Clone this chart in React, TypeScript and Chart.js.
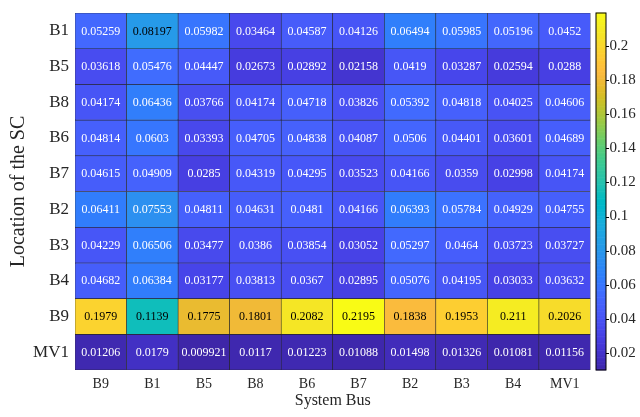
import React, { useEffect, useRef } from "react";
import { Chart, registerables } from "chart.js";

Chart.register(...registerables);

const systemBuses = ["B9", "B1", "B5", "B8", "B6", "B7", "B2", "B3", "B4", "MV1"];
const scLocations = ["B1", "B5", "B8", "B6", "B7", "B2", "B3", "B4", "B9", "MV1"];

const rowB1 = [0.05259, 0.08197, 0.05982, 0.03464, 0.04587, 0.04126, 0.06494, 0.05985, 0.05196, 0.0452];
const rowB5 = [0.03618, 0.05476, 0.04447, 0.02673, 0.02892, 0.02158, 0.0419, 0.03287, 0.02594, 0.0288];
const rowB8 = [0.04174, 0.06436, 0.03766, 0.04174, 0.04718, 0.03826, 0.05392, 0.04818, 0.04025, 0.04606];
const rowB6 = [0.04814, 0.0603, 0.03393, 0.04705, 0.04838, 0.04087, 0.0506, 0.04401, 0.03601, 0.04689];
const rowB7 = [0.04615, 0.04909, 0.0285, 0.04319, 0.04295, 0.03523, 0.04166, 0.0359, 0.02998, 0.04174];
const rowB2 = [0.06411, 0.07553, 0.04811, 0.04631, 0.0481, 0.04166, 0.06393, 0.05784, 0.04929, 0.04755];
const rowB3 = [0.04229, 0.06506, 0.03477, 0.0386, 0.03854, 0.03052, 0.05297, 0.0464, 0.03723, 0.03727];
const rowB4 = [0.04682, 0.06384, 0.03177, 0.03813, 0.0367, 0.02895, 0.05076, 0.04195, 0.03033, 0.03632];
const rowB9 = [0.1979, 0.1139, 0.1775, 0.1801, 0.2082, 0.2195, 0.1838, 0.1953, 0.211, 0.2026];
const rowMV1 = [0.01206, 0.0179, 0.009921, 0.0117, 0.01223, 0.01088, 0.01498, 0.01326, 0.01081, 0.01156];

const matrix = [rowB1, rowB5, rowB8, rowB6, rowB7, rowB2, rowB3, rowB4, rowB9, rowMV1];
const labelStrings = [
  ["0.05259", "0.08197", "0.05982", "0.03464", "0.04587", "0.04126", "0.06494", "0.05985", "0.05196", "0.0452"],
  ["0.03618", "0.05476", "0.04447", "0.02673", "0.02892", "0.02158", "0.0419", "0.03287", "0.02594", "0.0288"],
  ["0.04174", "0.06436", "0.03766", "0.04174", "0.04718", "0.03826", "0.05392", "0.04818", "0.04025", "0.04606"],
  ["0.04814", "0.0603", "0.03393", "0.04705", "0.04838", "0.04087", "0.0506", "0.04401", "0.03601", "0.04689"],
  ["0.04615", "0.04909", "0.0285", "0.04319", "0.04295", "0.03523", "0.04166", "0.0359", "0.02998", "0.04174"],
  ["0.06411", "0.07553", "0.04811", "0.04631", "0.0481", "0.04166", "0.06393", "0.05784", "0.04929", "0.04755"],
  ["0.04229", "0.06506", "0.03477", "0.0386", "0.03854", "0.03052", "0.05297", "0.0464", "0.03723", "0.03727"],
  ["0.04682", "0.06384", "0.03177", "0.03813", "0.0367", "0.02895", "0.05076", "0.04195", "0.03033", "0.03632"],
  ["0.1979", "0.1139", "0.1775", "0.1801", "0.2082", "0.2195", "0.1838", "0.1953", "0.211", "0.2026"],
  ["0.01206", "0.0179", "0.009921", "0.0117", "0.01223", "0.01088", "0.01498", "0.01326", "0.01081", "0.01156"],
];
const colorbarTicks = [0.02, 0.04, 0.06, 0.08, 0.1, 0.12, 0.14, 0.16, 0.18, 0.2];

const PARULA: number[][] = [
  [0.2422, 0.1504, 0.6603], [0.2504, 0.165, 0.7076], [0.2578, 0.1818, 0.7511], [0.2647, 0.1978, 0.7952],
  [0.2706, 0.2147, 0.8364], [0.2751, 0.2342, 0.871], [0.2783, 0.2559, 0.8991], [0.2803, 0.2782, 0.9221],
  [0.2813, 0.3006, 0.9414], [0.281, 0.3228, 0.9579], [0.2795, 0.3447, 0.9717], [0.276, 0.3667, 0.9829],
  [0.2699, 0.3892, 0.9906], [0.2602, 0.4123, 0.9952], [0.244, 0.4358, 0.9988], [0.2206, 0.4603, 0.9973],
  [0.1963, 0.4847, 0.9892], [0.1834, 0.5074, 0.9798], [0.1786, 0.5289, 0.9682], [0.1764, 0.5499, 0.952],
  [0.1687, 0.5703, 0.9359], [0.154, 0.5902, 0.9218], [0.146, 0.6091, 0.9079], [0.138, 0.6276, 0.8973],
  [0.1248, 0.6459, 0.8883], [0.1113, 0.6635, 0.8763], [0.0952, 0.6798, 0.8598], [0.0689, 0.6948, 0.8394],
  [0.0297, 0.7082, 0.8163], [0.0036, 0.7203, 0.7917], [0.0067, 0.7312, 0.766], [0.0433, 0.7411, 0.7394],
  [0.0964, 0.75, 0.712], [0.1408, 0.7584, 0.6842], [0.1717, 0.767, 0.6554], [0.1938, 0.7758, 0.6251],
  [0.2161, 0.7843, 0.5923], [0.247, 0.7918, 0.5567], [0.2906, 0.7973, 0.5188], [0.3406, 0.8008, 0.4789],
  [0.3909, 0.8029, 0.4354], [0.4456, 0.8024, 0.3909], [0.5044, 0.7993, 0.348], [0.5616, 0.7942, 0.3045],
  [0.6174, 0.7876, 0.2612], [0.672, 0.7793, 0.2227], [0.7242, 0.7698, 0.191], [0.7738, 0.7598, 0.1646],
  [0.8203, 0.7498, 0.1535], [0.8634, 0.7406, 0.1596], [0.9035, 0.733, 0.1774], [0.9393, 0.7288, 0.21],
  [0.9728, 0.7298, 0.2394], [0.9956, 0.7434, 0.2371], [0.997, 0.7659, 0.2199], [0.9952, 0.7893, 0.2028],
  [0.9892, 0.8136, 0.1885], [0.9786, 0.8386, 0.1766], [0.9676, 0.8639, 0.1643], [0.961, 0.889, 0.1537],
  [0.9597, 0.9135, 0.1423], [0.9628, 0.9373, 0.1265], [0.9691, 0.9606, 0.1064], [0.9769, 0.9839, 0.0805],
];

const allValues = matrix.flat();
const vMin = Math.min(...allValues);
const vMax = Math.max(...allValues);

function parula(t: number): string {
  const c = Math.max(0, Math.min(1, t)) * (PARULA.length - 1);
  const i = Math.floor(c);
  const j = Math.min(PARULA.length - 1, i + 1);
  const f = c - i;
  const rgb = [0, 1, 2].map((k) => Math.round((PARULA[i][k] * (1 - f) + PARULA[j][k] * f) * 255));
  return `rgb(${rgb[0]},${rgb[1]},${rgb[2]})`;
}
const colorFor = (v: number) => parula((v - vMin) / (vMax - vMin));

const FONT = "'Liberation Serif', 'Times New Roman', serif";

const cellTextPlugin = {
  id: "cellText",
  afterDatasetsDraw(chart: any) {
    const ctx = chart.ctx;
    ctx.save();
    ctx.font = `12px ${FONT}`;
    ctx.textAlign = "center";
    ctx.textBaseline = "middle";
    chart.data.datasets.forEach((ds: any, r: number) => {
      const meta = chart.getDatasetMeta(r);
      meta.data.forEach((el: any, c: number) => {
        const p = el.getCenterPoint();
        const v = matrix[r][c];
        ctx.fillStyle = v > 0.08 ? "#000000" : "#ffffff";
        ctx.fillText(labelStrings[r][c], p.x, p.y + 0.5);
      });
    });
    ctx.restore();
  },
};

const colorbarPlugin = {
  id: "colorbar",
  afterDraw(chart: any) {
    const ctx = chart.ctx;
    const s = chart.scales.cb;
    const x0 = chart.chartArea.right + 5.5;
    const w = 10;
    const yTop = s.getPixelForValue(vMax);
    const yBot = s.getPixelForValue(vMin);
    const n = 256;
    const h = (yBot - yTop) / n;
    ctx.save();
    for (let i = 0; i < n; i++) {
      ctx.fillStyle = parula((i + 0.5) / n);
      ctx.fillRect(x0, yBot - (i + 1) * h - 0.3, w, h + 0.6);
    }
    ctx.strokeStyle = "#000";
    ctx.lineWidth = 1;
    ctx.strokeRect(x0, yTop, w, yBot - yTop);
    ctx.beginPath();
    colorbarTicks.forEach((t) => {
      const y = Math.round(s.getPixelForValue(t)) + 0.5;
      ctx.moveTo(x0 + w, y);
      ctx.lineTo(x0 + w + 3, y);
    });
    ctx.stroke();
    ctx.restore();
  },
};

const zeroPad = (s: any) => {
  s.paddingTop = 0;
  s.paddingBottom = 0;
  s.paddingLeft = 0;
  s.paddingRight = 0;
};

export default function App() {
  const ref = useRef<HTMLCanvasElement>(null);
  useEffect(() => {
    if (!ref.current) return;
    const datasets = matrix.map((row, r) => ({
      label: scLocations[r],
      data: row.map(() => [r - 0.5, r + 0.5]),
      backgroundColor: row.map(colorFor),
      borderColor: "#262626",
      borderWidth: 0.6,
      borderSkipped: false,
      categoryPercentage: 1,
      barPercentage: 1,
      grouped: false,
      yAxisID: "y",
      xAxisID: "x",
    }));
    const chart = new Chart(ref.current, {
      type: "bar",
      data: { labels: systemBuses, datasets: datasets as any },
      options: {
        animation: false,
        responsive: false,
        layout: { padding: { top: 13, left: 0, right: 0, bottom: 0 } },
        plugins: { legend: { display: false }, tooltip: { enabled: false } },
        scales: {
          x: {
            type: "category",
            offset: true,
            grid: { display: false, drawTicks: false },
            border: { display: false },
            ticks: { color: "#262626", font: { family: FONT, size: 14 }, padding: 6 },
            title: {
              display: true,
              text: "System Bus",
              color: "#262626",
              font: { family: FONT, size: 16 },
              padding: { top: 0, bottom: 7 },
            },
            afterFit: (s: any) => {
              s.height = 47;
              zeroPad(s);
            },
          },
          y: {
            type: "linear",
            reverse: true,
            min: -0.5,
            max: 9.5,
            grid: { display: false, drawTicks: false },
            border: { display: false },
            afterBuildTicks: (s: any) => {
              s.ticks = scLocations.map((_, i) => ({ value: i }));
            },
            ticks: {
              color: "#262626",
              font: { family: FONT, size: 17 },
              padding: 6,
              autoSkip: false,
              callback: (v: any) => scLocations[Math.round(Number(v))] ?? "",
            },
            title: {
              display: true,
              text: "Location of the SC",
              color: "#262626",
              font: { family: FONT, size: 20 },
              padding: { top: 7, bottom: 0 },
            },
            afterFit: (s: any) => {
              s.width = 75;
              zeroPad(s);
            },
          },
          cb: {
            type: "linear",
            position: "right",
            min: vMin,
            max: vMax,
            grid: { display: false, drawTicks: false },
            border: { display: false },
            afterBuildTicks: (s: any) => {
              s.ticks = colorbarTicks.map((v) => ({ value: v }));
            },
            ticks: {
              color: "#262626",
              font: { family: FONT, size: 15 },
              padding: 19,
              autoSkip: false,
              callback: (v: any) => String(Number(v)),
            },
            afterFit: (s: any) => {
              s.width = 49.5;
              zeroPad(s);
            },
          },
        },
      },
      plugins: [cellTextPlugin, colorbarPlugin],
    });
    return () => chart.destroy();
  }, []);
  return (
    <div style={{ position: "fixed", left: 0, top: 0, width: 640, height: 417, background: "#fff" }}>
      <canvas ref={ref} width={640} height={417} />
    </div>
  );
}
